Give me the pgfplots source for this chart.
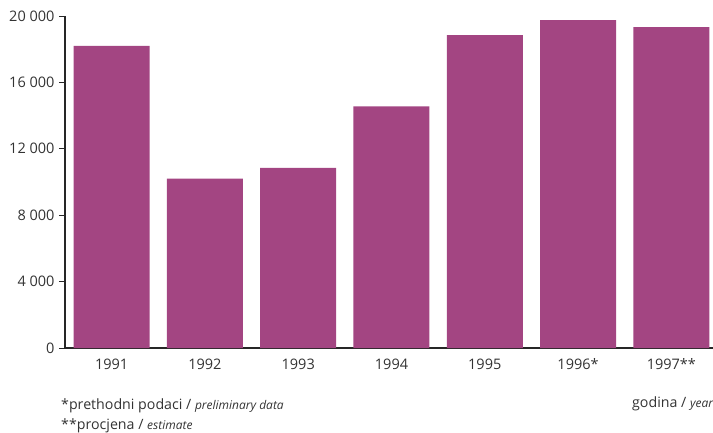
\documentclass[border=0pt]{standalone}
\usepackage{pgfplots}
\pgfplotsset{compat=1.18}
\usepackage{fontspec}
\setmainfont{Open Sans}
\definecolor{barcol}{HTML}{A34582}
\definecolor{txt}{HTML}{333333}
\begin{document}
\begin{tikzpicture}[x=1pt,y=1pt]
\clip (-65,-84) rectangle (648,348);
\begin{axis}[
  scale only axis,
  width=653pt, height=332pt,
  xmin=-0.5, xmax=6.5,
  ymin=0, ymax=20000,
  scaled y ticks=false,
  axis x line*=bottom,
  axis y line*=left,
  axis line style={line width=2.2pt, color=black!85},
  xtick={0,...,6},
  xticklabels={1991,1992,1993,1994,1995,1996*,1997**},
  xtick style={draw=none},
  ytick={0,4000,8000,12000,16000,20000},
  yticklabels={0,4 000,8 000,12 000,16 000,20 000},
  ytick align=outside,
  major tick length=6pt,
  ytick style={line width=1pt, color=black!85},
  tick label style={font=\fontsize{14.5}{16}\selectfont, text=txt},
  xticklabel style={yshift=-1pt},
  yticklabel style={xshift=-1pt},
  ybar, bar width=76pt,
  enlargelimits=false,
  clip=false,
]
\addplot[fill=barcol, draw=none] coordinates
  {(0,18200) (1,10200) (2,10850) (3,14550) (4,18850) (5,19750) (6,19330)};
\end{axis}
\node[anchor=base west, text=txt, font=\fontsize{14.2}{16}\selectfont, inner sep=0] at (-4,-61)
  {*prethodni podaci / {\itshape\fontsize{12}{14}\selectfont preliminary data}};
\node[anchor=base west, text=txt, font=\fontsize{14.2}{16}\selectfont, inner sep=0] at (-4,-81)
  {**procjena / {\itshape\fontsize{12}{14}\selectfont estimate}};
\node[anchor=base west, text=txt, font=\fontsize{14.2}{16}\selectfont, inner sep=0] at (567,-59)
  {godina / {\itshape\fontsize{12}{14}\selectfont year}};
\end{tikzpicture}
\end{document}
